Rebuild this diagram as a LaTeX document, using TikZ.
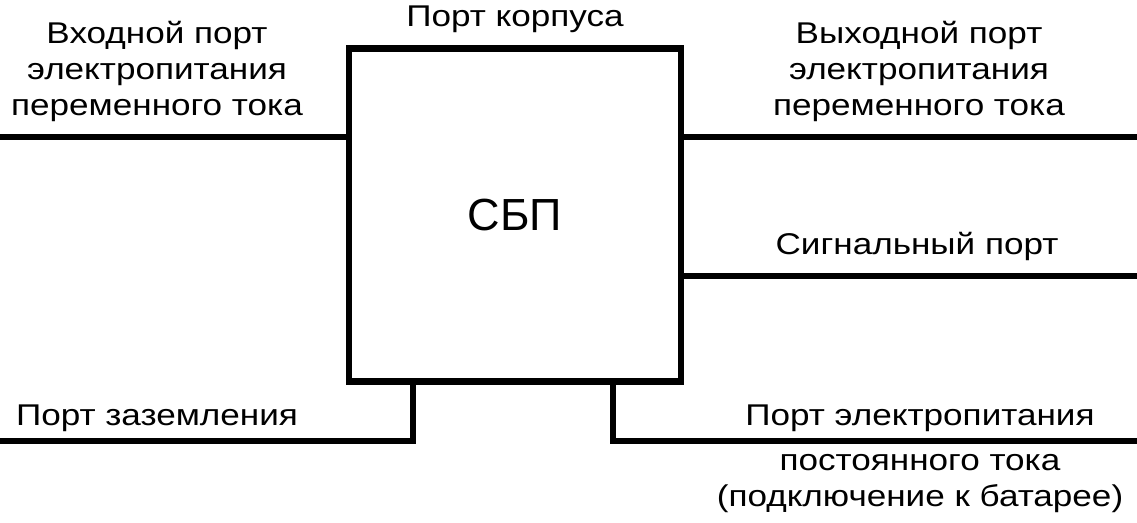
\documentclass[tikz,border=0pt]{standalone}
\usepackage{fontspec}
\setmainfont{Liberation Sans}
\newfontfamily\widefont[FakeStretch=1.17]{Liberation Sans}
\begin{document}
\begin{tikzpicture}[x=1pt,y=-1pt,
    wire/.style={line width=6.5pt},
    lbl/.style={font=\widefont\fontsize{30}{36}\selectfont, align=center, inner sep=0pt}]
  \useasboundingbox (0,0) rectangle (1137,522);
  % Блок СБП
  \node[draw, line width=6.5pt, outer sep=0pt, minimum width=332pt, minimum height=333pt,
        font=\fontsize{45}{50}\selectfont] (sbp) at (515,215) {СБП};
  \node[lbl, anchor=base] (case) at (515,26) {Порт корпуса};

  % Вход переменного тока
  \coordinate (acin) at (0,137);
  \draw[wire] (acin) -- (acin -| sbp.west);
  \node[lbl, anchor=base] (acinlbl) at (157,115) {Входной порт\\электропитания\\переменного тока};

  % Выход переменного тока
  \coordinate (acout) at (1137,137);
  \draw[wire] (sbp.east |- acout) -- (acout);
  \node[lbl, anchor=base] (acoutlbl) at (919,115) {Выходной порт\\электропитания\\переменного тока};

  % Сигнальный порт
  \coordinate (sig) at (1137,276);
  \draw[wire] (sbp.east |- sig) -- (sig);
  \node[lbl, anchor=base] (siglbl) at (917,254) {Сигнальный порт};

  % Заземление
  \coordinate (gnd) at (0,441);
  \coordinate (gndx) at (413,441);
  \draw[wire] (gndx |- sbp.south) -- (gndx) -- (gnd);
  \node[lbl, anchor=base] (gndlbl) at (157,425) {Порт заземления};

  % Постоянный ток
  \coordinate (dcx) at (613,441);
  \coordinate (dc) at (1137,441);
  \draw[wire] (dcx |- sbp.south) -- (dcx) -- (dc);
  \node[lbl, anchor=base] (dclbl) at (920,425) {Порт электропитания};
  \node[lbl, anchor=base] (dclbl2) at (920,506) {постоянного тока\\(подключение к батарее)};
\end{tikzpicture}
\end{document}
